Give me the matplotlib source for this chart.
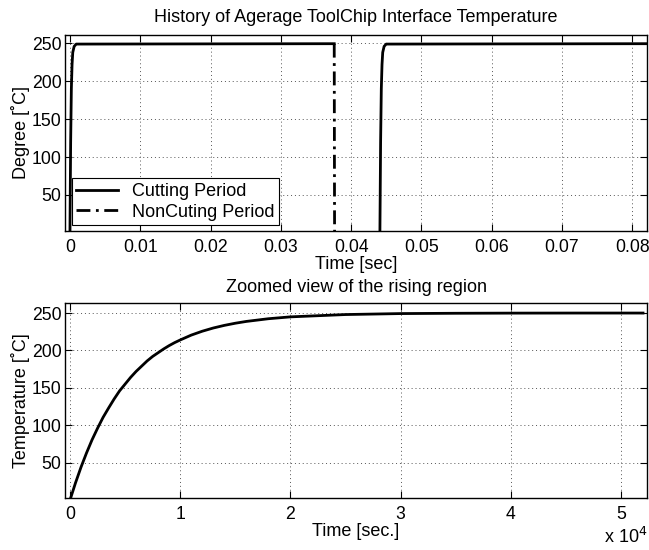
import matplotlib

matplotlib.use("Agg")

import matplotlib.pyplot as plt

plt.rcParams.update(
    {
        "font.family": ["Liberation Sans", "DejaVu Sans"],
        "font.size": 13,
        "axes.linewidth": 1.0,
        "xtick.direction": "in",
        "ytick.direction": "in",
        "xtick.top": True,
        "ytick.right": True,
    }
)

# ---- top panel: history over the whole run (seconds, degC) ----
cut1_t = [0.0, 0.0001, 0.0002, 0.0003, 0.0004, 0.0006, 0.0009, 0.0376]
cut1_T = [0.0, 120.0, 190.0, 222.0, 238.0, 246.0, 249.0, 249.5]

noncut_t = [0.0376, 0.03765, 0.0380, 0.0441]
noncut_T = [249.5, 0.0, 0.0, 0.0]

cut2_t = [0.0441, 0.0442, 0.0443, 0.0444, 0.0445, 0.0447, 0.0450, 0.0820]
cut2_T = [0.0, 120.0, 190.0, 222.0, 238.0, 246.0, 249.0, 249.5]

# ---- bottom panel: zoomed rise (time axis in units shown as x10^4) ----
zoom_t = [0, 500, 1000, 1500, 2000, 2500, 3000, 3500, 4000, 4500, 5000,
          5500, 6000, 6500, 7000, 7500, 8000, 8500, 9000, 9500, 10000,
          11000, 12000, 13000, 14000, 15000, 16000, 18000, 20000, 25000,
          30000, 35000, 40000, 46000, 52000]
zoom_T = [0, 23, 44, 63, 80.5, 96, 110.5, 123, 135, 146, 155,
          164, 172, 179, 186, 192, 197, 202, 206.5, 210.5, 214,
          220.5, 225.7, 230, 233.5, 236.4, 238.8, 242.4, 244.9, 248,
          249.3, 249.7, 249.9, 250, 250]

top_xticks = [0, 0.01, 0.02, 0.03, 0.04, 0.05, 0.06, 0.07, 0.08]
top_xticklabels = ["0", "0.01", "0.02", "0.03", "0.04", "0.05", "0.06", "0.07", "0.08"]
yticks = [50, 100, 150, 200, 250]
bot_xticks = [0, 10000, 20000, 30000, 40000, 50000]
bot_xticklabels = ["0", "1", "2", "3", "4", "5"]

LW = 2.0
GRID = dict(color="#555555", linestyle=(0, (1, 3)), linewidth=0.7)

fig = plt.figure(figsize=(6.49, 5.5), dpi=100)
ax1 = fig.add_axes([0.1002, 0.58, 0.8967, 0.3564])
ax2 = fig.add_axes([0.1002, 0.0951, 0.8967, 0.3534])

# top
ax1.plot(cut1_t, cut1_T, color="black", lw=LW, label="Cutting Period")
ax1.plot(noncut_t, noncut_T, color="black", lw=LW, linestyle=(0, (5, 2, 1, 2)),
         label="NonCuting Period")
ax1.plot(cut2_t, cut2_T, color="black", lw=LW)
ax1.set_xlim(-0.0007, 0.0821)
ax1.set_ylim(2.5, 261)
ax1.set_xticks(top_xticks)
ax1.set_xticklabels(top_xticklabels)
ax1.set_yticks(yticks)
ax1.grid(True, **GRID)
ax1.set_title("History of Agerage ToolChip Interface Temperature", fontsize=13, pad=9)
ax1.set_xlabel("Time [sec]", labelpad=0)
ax1.set_ylabel("Degree [˚C]", labelpad=1)
leg = ax1.legend(
    loc="lower left",
    bbox_to_anchor=(0.0115, 0.03),
    borderaxespad=0.0,
    fancybox=False,
    framealpha=1.0,
    edgecolor="black",
    handlelength=2.3,
    handletextpad=0.8,
    labelspacing=0.2,
    borderpad=0.25,
    fontsize=13,
)
leg.get_frame().set_linewidth(0.8)

# bottom
ax2.plot(zoom_t, zoom_T, color="black", lw=LW)
ax2.set_xlim(-450, 52360)
ax2.set_ylim(3.2, 263)
ax2.set_xticks(bot_xticks)
ax2.set_xticklabels(bot_xticklabels)
ax2.set_yticks(yticks)
ax2.grid(True, **GRID)
ax2.set_title("Zoomed view of the rising region", fontsize=13, pad=8)
ax2.set_xlabel("Time [sec.]", labelpad=0)
ax2.set_ylabel("Temperature [˚C]", labelpad=1)
fig.text(0.998, 0.005, r"x 10$^{4}$", ha="right", va="bottom", fontsize=13)

for ax in (ax1, ax2):
    ax.tick_params(axis="x", length=5, width=0.8, labelsize=12.7, pad=6)
    ax.tick_params(axis="y", length=5, width=0.8, labelsize=12.7, pad=2.5)

fig.savefig("out.png", dpi=100)
